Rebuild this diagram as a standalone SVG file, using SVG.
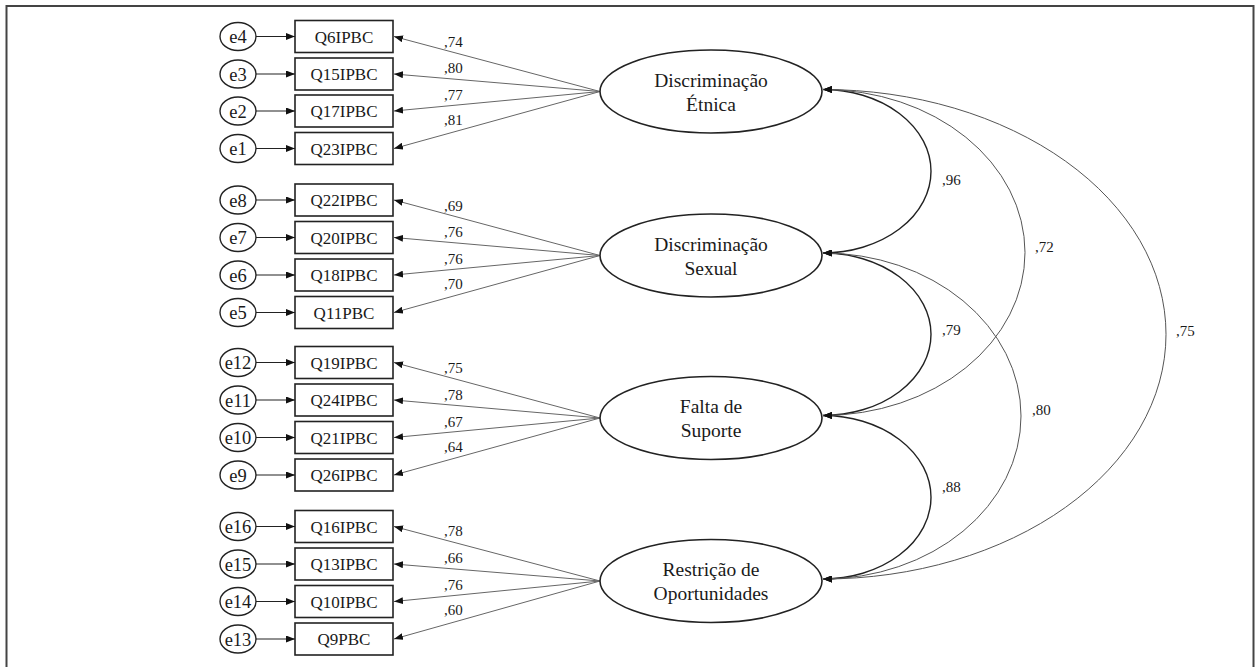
<svg xmlns="http://www.w3.org/2000/svg" width="1256" height="667" viewBox="0 0 1256 667" font-family="'Liberation Serif', Tinos, 'Times New Roman', 'DejaVu Serif', serif">
<defs>
<style>
text{font-family:'Liberation Serif', Tinos, 'Times New Roman', 'DejaVu Serif', serif;fill:#1a1a1a}
.box{fill:#fff;stroke:#222;stroke-width:1.6}
.err{fill:#fff;stroke:#222;stroke-width:1.4}
.lat{fill:#fff;stroke:#222;stroke-width:1.6}
.bt{font-size:17px;text-anchor:middle}
.et{font-size:18.5px;text-anchor:middle}
.lt{font-size:19.5px;text-anchor:middle}
.ld{font-size:15px}
.cv{font-size:15px}
.ea{stroke:#222;stroke-width:1.1;fill:none;marker-end:url(#ah)}
.la{stroke:#666;stroke-width:1;fill:none;marker-end:url(#ah)}
.c1{stroke:#222;stroke-width:1.4;fill:none;marker-start:url(#ahs);marker-end:url(#ah)}
.c2{stroke:#555;stroke-width:1;fill:none;marker-start:url(#ahs);marker-end:url(#ah)}
</style>
<marker id="ah" markerUnits="userSpaceOnUse" markerWidth="9" markerHeight="7" refX="9" refY="3.5" orient="auto"><path d="M0,0 L9,3.5 L0,7 z" fill="#111"/></marker>
<marker id="ahs" markerUnits="userSpaceOnUse" markerWidth="9" markerHeight="7" refX="9" refY="3.5" orient="auto-start-reverse"><path d="M0,0 L9,3.5 L0,7 z" fill="#111"/></marker>
</defs>
<rect x="0" y="0" width="1256" height="667" fill="#fff"/>
<rect id="frame" x="6.5" y="6" width="1247" height="680" fill="none" stroke="#444" stroke-width="2"/>

<g id="connectors">
<path class="ea" d="M256,36.5 H295"/><path class="ea" d="M256,74 H295"/><path class="ea" d="M256,111 H295"/><path class="ea" d="M256,148.5 H295"/>
<path class="ea" d="M256,200 H295"/><path class="ea" d="M256,237.5 H295"/><path class="ea" d="M256,275 H295"/><path class="ea" d="M256,312.5 H295"/>
<path class="ea" d="M256,362.5 H295"/><path class="ea" d="M256,400 H295"/><path class="ea" d="M256,437.5 H295"/><path class="ea" d="M256,475 H295"/>
<path class="ea" d="M256,526.5 H295"/><path class="ea" d="M256,564 H295"/><path class="ea" d="M256,601.5 H295"/><path class="ea" d="M256,639 H295"/>
<path class="la" d="M600,91.5 L394,36.5"/><path class="la" d="M600,91.5 L394,74"/><path class="la" d="M600,91.5 L394,111"/><path class="la" d="M600,91.5 L394,148.5"/>
<path class="la" d="M600,255.5 L394,200"/><path class="la" d="M600,255.5 L394,237.5"/><path class="la" d="M600,255.5 L394,275"/><path class="la" d="M600,255.5 L394,312.5"/>
<path class="la" d="M600,418 L394,362.5"/><path class="la" d="M600,418 L394,400"/><path class="la" d="M600,418 L394,437.5"/><path class="la" d="M600,418 L394,475"/>
<path class="la" d="M600,581 L394,526.5"/><path class="la" d="M600,581 L394,564"/><path class="la" d="M600,581 L394,601.5"/><path class="la" d="M600,581 L394,639"/>
<path class="c1" d="M823,89.5 A108,81.75 0 0 1 823,253"/>
<path class="c1" d="M823,253 A108,81.25 0 0 1 823,415.5"/>
<path class="c1" d="M823,415.5 A108,81.75 0 0 1 823,579"/>
<path class="c2" d="M823,89.5 A202,163 0 0 1 823,415.5"/>
<path class="c2" d="M823,253 A198,163 0 0 1 823,579"/>
<path class="c2" d="M823,89.5 A343,244.75 0 0 1 823,579"/>
</g>

<g id="loading-labels">
<text class="ld" x="444" y="46.5">,74</text><text class="ld" x="444" y="73">,80</text><text class="ld" x="444" y="100">,77</text><text class="ld" x="444" y="125">,81</text>
<text class="ld" x="444" y="210.5">,69</text><text class="ld" x="444" y="237">,76</text><text class="ld" x="444" y="264">,76</text><text class="ld" x="444" y="289">,70</text>
<text class="ld" x="444" y="373">,75</text><text class="ld" x="444" y="399.5">,78</text><text class="ld" x="444" y="426.5">,67</text><text class="ld" x="444" y="451.5">,64</text>
<text class="ld" x="444" y="536">,78</text><text class="ld" x="444" y="562.5">,66</text><text class="ld" x="444" y="589.5">,76</text><text class="ld" x="444" y="614.5">,60</text>
<text class="cv" x="942" y="185">,96</text>
<text class="cv" x="1035" y="252">,72</text>
<text class="cv" x="942" y="335">,79</text>
<text class="cv" x="1176" y="336">,75</text>
<text class="cv" x="1032" y="415">,80</text>
<text class="cv" x="942" y="492">,88</text>
</g>

<g id="latent-1"><ellipse class="lat" cx="711" cy="91.5" rx="111" ry="41.5"/><text class="lt" x="711" y="86.5">Discriminação</text><text class="lt" x="711" y="111">Étnica</text></g>
<g id="latent-2"><ellipse class="lat" cx="711" cy="255.5" rx="111" ry="41.5"/><text class="lt" x="711" y="250.5">Discriminação</text><text class="lt" x="711" y="275">Sexual</text></g>
<g id="latent-3"><ellipse class="lat" cx="711" cy="418" rx="111" ry="41.5"/><text class="lt" x="711" y="413">Falta de</text><text class="lt" x="711" y="437">Suporte</text></g>
<g id="latent-4"><ellipse class="lat" cx="711" cy="581" rx="111" ry="41.5"/><text class="lt" x="711" y="576">Restrição de</text><text class="lt" x="711" y="600">Oportunidades</text></g>

<g id="item-Q6IPBC"><rect class="box" x="295" y="20.5" width="98" height="32"/><text class="bt" x="344" y="42.5">Q6IPBC</text></g>
<g id="item-Q15IPBC"><rect class="box" x="295" y="58" width="98" height="32"/><text class="bt" x="344" y="80">Q15IPBC</text></g>
<g id="item-Q17IPBC"><rect class="box" x="295" y="95" width="98" height="32"/><text class="bt" x="344" y="117">Q17IPBC</text></g>
<g id="item-Q23IPBC"><rect class="box" x="295" y="132.5" width="98" height="32"/><text class="bt" x="344" y="154.5">Q23IPBC</text></g>
<g id="item-Q22IPBC"><rect class="box" x="295" y="184" width="98" height="32"/><text class="bt" x="344" y="206">Q22IPBC</text></g>
<g id="item-Q20IPBC"><rect class="box" x="295" y="221.5" width="98" height="32"/><text class="bt" x="344" y="243.5">Q20IPBC</text></g>
<g id="item-Q18IPBC"><rect class="box" x="295" y="259" width="98" height="32"/><text class="bt" x="344" y="281">Q18IPBC</text></g>
<g id="item-Q11PBC"><rect class="box" x="295" y="296.5" width="98" height="32"/><text class="bt" x="344" y="318.5">Q11PBC</text></g>
<g id="item-Q19IPBC"><rect class="box" x="295" y="346.5" width="98" height="32"/><text class="bt" x="344" y="368.5">Q19IPBC</text></g>
<g id="item-Q24IPBC"><rect class="box" x="295" y="384" width="98" height="32"/><text class="bt" x="344" y="406">Q24IPBC</text></g>
<g id="item-Q21IPBC"><rect class="box" x="295" y="421.5" width="98" height="32"/><text class="bt" x="344" y="443.5">Q21IPBC</text></g>
<g id="item-Q26IPBC"><rect class="box" x="295" y="459" width="98" height="32"/><text class="bt" x="344" y="481">Q26IPBC</text></g>
<g id="item-Q16IPBC"><rect class="box" x="295" y="510.5" width="98" height="32"/><text class="bt" x="344" y="532.5">Q16IPBC</text></g>
<g id="item-Q13IPBC"><rect class="box" x="295" y="548" width="98" height="32"/><text class="bt" x="344" y="570">Q13IPBC</text></g>
<g id="item-Q10IPBC"><rect class="box" x="295" y="585.5" width="98" height="32"/><text class="bt" x="344" y="607.5">Q10IPBC</text></g>
<g id="item-Q9PBC"><rect class="box" x="295" y="623" width="98" height="32"/><text class="bt" x="344" y="645">Q9PBC</text></g>

<g id="err-e4"><ellipse class="err" cx="238" cy="36.5" rx="18" ry="14"/><text class="et" x="238" y="43">e4</text></g>
<g id="err-e3"><ellipse class="err" cx="238" cy="74" rx="18" ry="14"/><text class="et" x="238" y="80.5">e3</text></g>
<g id="err-e2"><ellipse class="err" cx="238" cy="111" rx="18" ry="14"/><text class="et" x="238" y="117.5">e2</text></g>
<g id="err-e1"><ellipse class="err" cx="238" cy="148.5" rx="18" ry="14"/><text class="et" x="238" y="155">e1</text></g>
<g id="err-e8"><ellipse class="err" cx="238" cy="200" rx="18" ry="14"/><text class="et" x="238" y="206.5">e8</text></g>
<g id="err-e7"><ellipse class="err" cx="238" cy="237.5" rx="18" ry="14"/><text class="et" x="238" y="244">e7</text></g>
<g id="err-e6"><ellipse class="err" cx="238" cy="275" rx="18" ry="14"/><text class="et" x="238" y="281.5">e6</text></g>
<g id="err-e5"><ellipse class="err" cx="238" cy="312.5" rx="18" ry="14"/><text class="et" x="238" y="319">e5</text></g>
<g id="err-e12"><ellipse class="err" cx="238" cy="362.5" rx="18" ry="14"/><text class="et" x="238" y="369">e12</text></g>
<g id="err-e11"><ellipse class="err" cx="238" cy="400" rx="18" ry="14"/><text class="et" x="238" y="406.5">e11</text></g>
<g id="err-e10"><ellipse class="err" cx="238" cy="437.5" rx="18" ry="14"/><text class="et" x="238" y="444">e10</text></g>
<g id="err-e9"><ellipse class="err" cx="238" cy="475" rx="18" ry="14"/><text class="et" x="238" y="481.5">e9</text></g>
<g id="err-e16"><ellipse class="err" cx="238" cy="526.5" rx="18" ry="14"/><text class="et" x="238" y="533">e16</text></g>
<g id="err-e15"><ellipse class="err" cx="238" cy="564" rx="18" ry="14"/><text class="et" x="238" y="570.5">e15</text></g>
<g id="err-e14"><ellipse class="err" cx="238" cy="601.5" rx="18" ry="14"/><text class="et" x="238" y="608">e14</text></g>
<g id="err-e13"><ellipse class="err" cx="238" cy="639" rx="18" ry="14"/><text class="et" x="238" y="645.5">e13</text></g>
</svg>
